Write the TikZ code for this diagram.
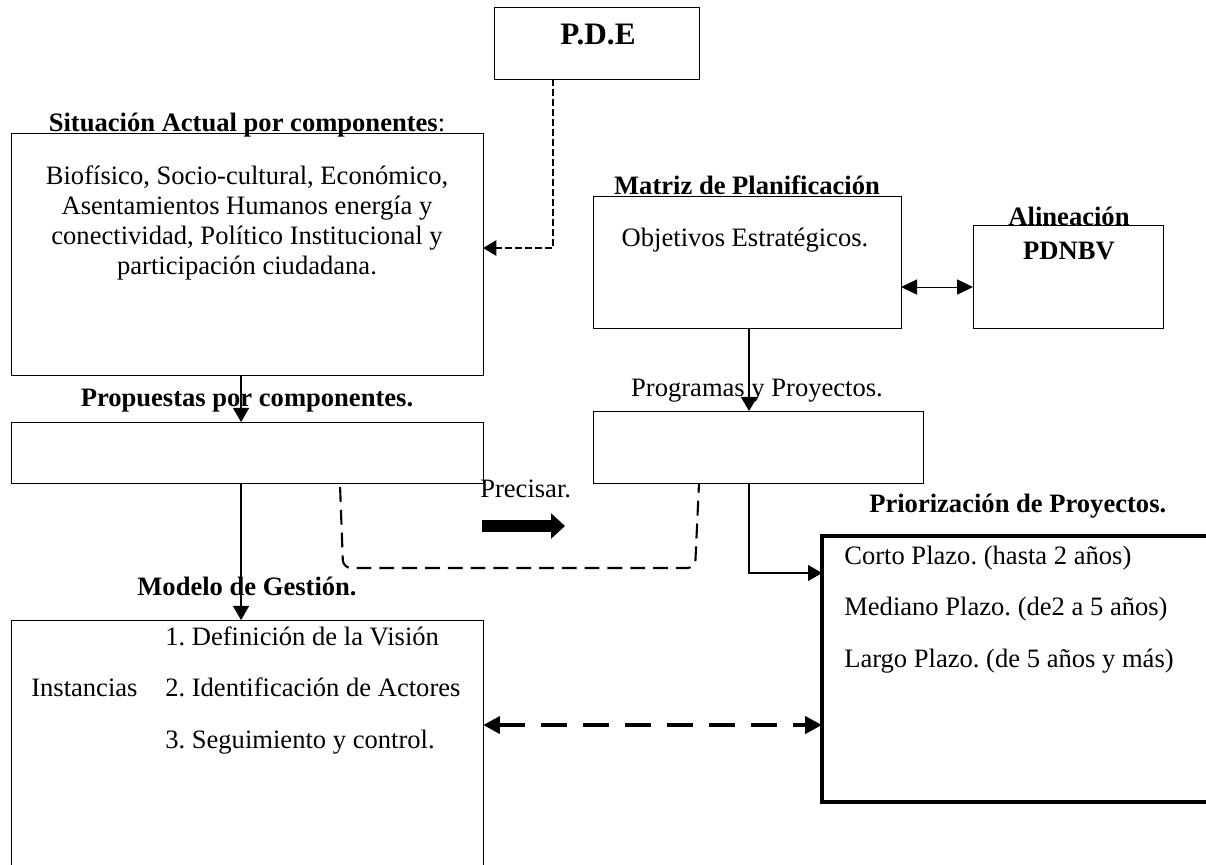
\documentclass[tikz,border=0pt]{standalone}
\usepackage{fontspec}
\setmainfont{Liberation Serif}
\usetikzlibrary{arrows.meta}
\frenchspacing
\tikzset{%
  box/.style={draw, line width=0.7pt, inner sep=0pt, outer sep=0pt, anchor=north west},%
  txt/.style={font=\fontsize{18.9}{21.3}\selectfont, inner sep=0pt, anchor=base},%
  ttl/.style={txt, font=\fontsize{18.9}{21.3}\selectfont\bfseries},%
  conn/.style={line width=0.8pt, -{Triangle[length=0.35cm,width=0.4cm]}},%
  biarrow/.style={line width=0.7pt, {Triangle[length=0.4cm,width=0.38cm]}-{Triangle[length=0.4cm,width=0.38cm]}},%
  pdelink/.style={line width=1.5pt, dash pattern=on 0.17cm off 0.08cm, -{Triangle[length=0.33cm,width=0.38cm]}},%
  bracketline/.style={line width=1.5pt, dash pattern=on 0.37cm off 0.2cm, rounded corners=0.2cm},%
  bolddash/.style={line width=3.5pt, dash pattern=on 0.65cm off 0.4cm, {Triangle[length=0.42cm,width=0.42cm]}-{Triangle[length=0.42cm,width=0.42cm]}},%
  blockarrow/.style={line width=0.3cm, -{Triangle[length=0.35cm,width=0.62cm]}}%
}

\begin{document}
\begin{tikzpicture}[x=0.025cm, y=-0.025cm]%
\useasboundingbox (0,0) rectangle (1206,865);%
\clip (0,0) rectangle (1206,865);%
% boxes
\node[box, minimum width=5.125cm, minimum height=1.8cm] (pde) at (494,7) {};%
\node[box, minimum width=11.8cm, minimum height=6.05cm] (sit) at (11,133) {};%
\node[box, minimum width=11.8cm, minimum height=1.525cm] (prop) at (11,422) {};%
\node[box, minimum width=11.8cm, minimum height=7.5cm] (mod) at (11,620) {};%
\node[box, minimum width=7.7cm, minimum height=3.3cm] (mat) at (593,196) {};%
\node[box, minimum width=4.75cm, minimum height=2.575cm] (ali) at (973,225) {};%
\node[box, minimum width=8.25cm, minimum height=1.8cm] (prog) at (593,411) {};%
\node[box, line width=2.8pt, minimum width=11.25cm, minimum height=6.65cm] (prio) at (822,536) {};%
% texts
\node[txt, font=\fontsize{22.2}{26}\selectfont\bfseries] (pdetxt) at (598,45) {P.D.E};%
\node[txt] (sittitle) at (247,132) {\textbf{Situación Actual por componentes}:};%
\node[txt, anchor=north, align=center] (sittxt) at (247,166) {Biofísico, Socio-cultural, Económico,\\Asentamientos Humanos energía y\\conectividad, Político Institucional y\\participación ciudadana.};%
\node[ttl] (proptitle) at (247,407) {Propuestas por componentes.};%
\node[ttl] (modtitle) at (247,596) {Modelo de Gestión.};%
\node[txt, anchor=base west] (modone) at (165,646) {1. Definición de la Visión};%
\node[txt, anchor=base west] (modinst) at (31,697) {Instancias};%
\node[txt, anchor=base west] (modtwo) at (165,697) {2. Identificación de Actores};%
\node[txt, anchor=base west] (modthree) at (165,748) {3. Seguimiento y control.};%
\node[ttl] (mattitle) at (747,195) {Matriz de Planificación};%
\node[txt] (mattxt) at (745,247) {Objetivos Estratégicos.};%
\node[ttl] (alititle) at (1069,226) {Alineación};%
\node[ttl] (alitxt) at (1069,260) {PDNBV};%
\node[txt] (progtitle) at (757,397) {Programas y Proyectos.};%
\node[txt, anchor=base west] (precisar) at (480,498) {Precisar.};%
\node[ttl, anchor=base west] (priotitle) at (869,513) {Priorización de Proyectos.};%
\node[txt, anchor=base west] (priocorto) at (844,565) {Corto Plazo. (hasta 2 años)};%
\node[txt, anchor=base west] (priomed) at (844,616) {Mediano Plazo. (de2 a 5 años)};%
\node[txt, anchor=base west] (priolargo) at (844,668) {Largo Plazo. (de 5 años y más)};%
% connectors
\draw[pdelink] ([xshift=-1.0875cm]pde.south) |- ([yshift=0.15cm]sit.east);%
\draw[conn] ([xshift=-0.15cm]sit.south) -- ([xshift=-0.15cm]prop.north);%
\draw[conn] ([xshift=-0.15cm]prop.south) -- ([xshift=-0.15cm]mod.north);%
\draw[conn, line width=1.2pt] ([xshift=0.05cm]mat.south) -- ([xshift=0.05cm]mat.south |- prog.north);%
\draw[biarrow] ([yshift=-0.625cm]mat.east) -- ([yshift=-0.625cm]mat.east -| ali.west);%
\draw[conn] ([xshift=-0.225cm]prog.south) |- ([yshift=-0.925cm]prio.north west);%
\draw[bolddash] ([yshift=-2.625cm]mod.north east) -- ([yshift=-2.625cm]mod.north east -| prio.west);%
\draw[bracketline] ([xshift=8.225cm, yshift=-0.1cm]prop.south west) -- ++(3,81) -- ++(352,0) -- ([xshift=2.65cm]prog.south west);%
\coordinate (blkA) at (482,526);%
\coordinate (blkB) at (565,526);%
\draw[blockarrow] (blkA) -- (blkB);%
\end{tikzpicture}
\end{document}
